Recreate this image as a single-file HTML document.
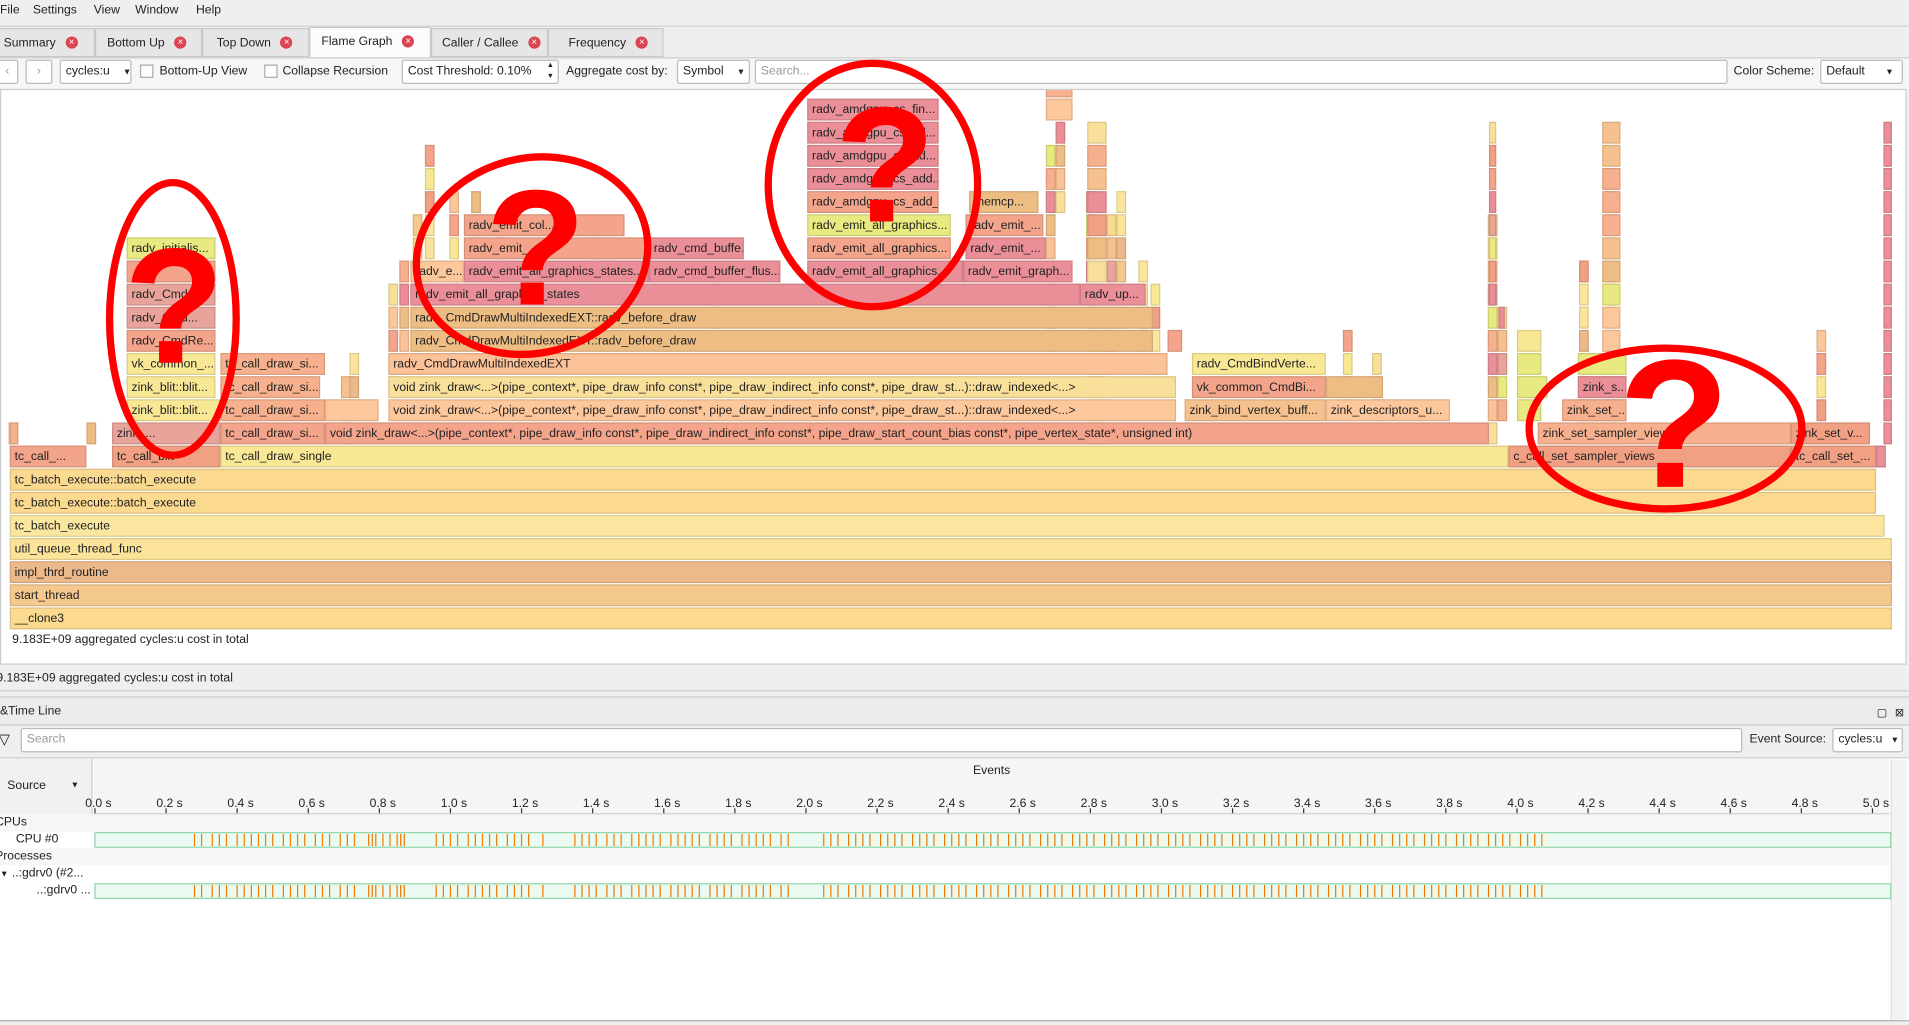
<!DOCTYPE html>
<html><head><meta charset="utf-8"><style>
html,body{margin:0;padding:0;width:1909px;height:1025px;overflow:hidden;background:#efefef}
#root{position:absolute;left:0;top:0;width:1568px;height:842px;transform:scale(1.21747,1.21734);transform-origin:0 0;font-family:"Liberation Sans","DejaVu Sans",sans-serif;font-size:10px;color:#222;background:#efefef}
.a{position:absolute;box-sizing:border-box;white-space:nowrap;overflow:hidden}
.tab{top:23px;height:24px;border:1px solid #c8c8c8;background:#e6e6e6;line-height:24px;padding-left:4px}
.x{display:inline-block;width:10px;height:10px;border-radius:5px;background:#da4453;color:#fff;font-size:8px;line-height:10px;text-align:center;margin-left:8px;vertical-align:middle}
.inp{background:#fff;border:1px solid #bbb;border-radius:2px;height:20px;line-height:18px;padding-left:4px}
.f{position:absolute;height:18px;box-sizing:border-box;border:1px solid rgba(0,0,0,0.12);font-size:10px;line-height:17px;padding-left:3px;white-space:nowrap;overflow:hidden;color:#222}
</style></head><body>
<div id="root">
<div class="a" style="top:0;left:0;width:1568px;height:18px;line-height:17px">
<span style="position:absolute;left:0">File</span>
<span style="position:absolute;left:27px">Settings</span>
<span style="position:absolute;left:77px">View</span>
<span style="position:absolute;left:111px">Window</span>
<span style="position:absolute;left:161px">Help</span></div>
<div class="a" style="top:21px;left:0;width:1568px;height:1px;background:#d0d0d0"></div>
<div class="a tab" style="left:-2px;width:80px">Summary<span class="x">×</span></div>
<div class="a tab" style="left:78px;width:88px;padding-left:9px">Bottom Up<span class="x">×</span></div>
<div class="a tab" style="left:166px;width:88px;padding-left:11px">Top Down<span class="x">×</span></div>
<div class="a tab" style="left:254px;width:100px;top:22px;height:27px;background:#fcfcfc;border-bottom:none;padding-left:9px">Flame Graph<span class="x">×</span></div>
<div class="a tab" style="left:354px;width:96px;padding-left:8px">Caller / Callee<span class="x">×</span></div>
<div class="a tab" style="left:450px;width:95px;padding-left:16px">Frequency<span class="x">×</span></div>
<div class="a" style="top:47px;left:0;width:1568px;height:26px;background:#f6f6f6;border-top:1px solid #ccc"></div>
<div class="a inp" style="top:49px;left:-3px;width:18px;color:#999;text-align:center;padding:0">‹</div>
<div class="a inp" style="top:49px;left:21px;width:22px;color:#999;text-align:center;padding:0">›</div>
<div class="a inp" style="top:49px;left:49px;width:59px">cycles:u <span style="font-size:7px;margin-left:8px">▼</span></div>
<div class="a" style="top:53px;left:115px;width:11px;height:11px;border:1px solid #aaa;background:#fff"></div>
<div class="a" style="top:51px;left:131px;line-height:16px">Bottom-Up View</div>
<div class="a" style="top:53px;left:217px;width:11px;height:11px;border:1px solid #aaa;background:#fff"></div>
<div class="a" style="top:51px;left:232px;line-height:16px">Collapse Recursion</div>
<div class="a inp" style="top:49px;left:330px;width:129px">Cost Threshold: 0.10%<span style="position:absolute;right:3px;top:0;font-size:6px;line-height:9px">▲<br>▼</span></div>
<div class="a" style="top:51px;left:465px;line-height:16px">Aggregate cost by:</div>
<div class="a inp" style="top:49px;left:556px;width:60px">Symbol <span style="font-size:7px;margin-left:8px">▼</span></div>
<div class="a inp" style="top:49px;left:620px;width:799px;color:#999">Search...</div>
<div class="a" style="top:51px;left:1424px;line-height:16px">Color Scheme:</div>
<div class="a inp" style="top:49px;left:1495px;width:68px">Default <span style="font-size:7px;margin-left:14px">▼</span></div>
<div class="a" id="flame" style="top:73px;left:0;width:1566px;height:473px;background:#fff;border:1px solid #ccc"></div>
<div class="a" style="top:519px;left:10px;line-height:14px">9.183E+09 aggregated cycles:u cost in total</div>
<div class="a" style="top:551px;left:-3px;line-height:14px">9.183E+09 aggregated cycles:u cost in total</div>
<div class="a" style="top:567px;left:0;width:1568px;height:1px;background:#ccc"></div>
<div class="a" style="top:572px;left:0;width:1568px;height:24px;line-height:24px;background:#ececec;border-top:1px solid #ccc;border-bottom:1px solid #ccc;padding-left:0">&amp;Time Line<span style="position:absolute;right:18px;font-size:9px">▢</span><span style="position:absolute;right:4px;font-size:9px">⊠</span></div>
<div class="a" style="top:600px;left:-1px;font-size:12px">▽</div>
<div class="a inp" style="top:598px;left:17px;width:1414px;color:#999">Search</div>
<div class="a" style="top:600px;left:1437px;line-height:16px">Event Source:</div>
<div class="a inp" style="top:598px;left:1505px;width:58px">cycles:u <span style="font-size:7px;margin-left:4px">▼</span></div>
<div class="a" style="top:622px;left:0;width:1568px;height:217px;background:#fff;border-top:1px solid #ccc;border-bottom:1px solid #aaa"></div>
<div class="a" style="top:623px;left:0;width:76px;height:46px;background:#f1f1f1;border-right:1px solid #ccc;line-height:46px;padding-left:6px">Source<span style="position:absolute;left:58px;font-size:7px">▼</span></div>
<div class="a" style="top:623px;left:77px;width:1475px;height:46px;background:#f5f5f5;border-bottom:1px solid #ccc"><div style="position:absolute;top:4px;width:100%;text-align:center;line-height:14px">Events</div></div>
<div class="a" style="top:669px;left:0;width:1552px;height:14px;background:#f7f7f7"></div>
<div class="a" style="top:697px;left:0;width:1552px;height:14px;background:#f7f7f7"></div>
<div class="a" style="top:669px;left:-4px;line-height:14px">CPUs</div>
<div class="a" style="top:683px;left:13px;line-height:14px">CPU #0</div>
<div class="a" style="top:697px;left:-4px;line-height:14px">Processes</div>
<div class="a" style="top:711px;left:0;line-height:14px"><span style="font-size:7px">▼</span> ..:gdrv0 (#2...</div>
<div class="a" style="top:725px;left:30px;line-height:14px">..:gdrv0 ...</div>
<div class="a" style="top:624px;left:1553px;width:13px;height:214px;background:#f3f3f3;border-left:1px solid #ddd"></div>
<svg class="a" id="tl" style="top:623px;left:0" width="1568" height="215"></svg>
<svg class="a" style="top:0;left:0;overflow:visible" width="1568" height="842">
<g fill="none" stroke="#ff0000" stroke-width="6">
<ellipse cx="142" cy="262" rx="52" ry="112"/>
<ellipse cx="437" cy="210" rx="96" ry="80" transform="rotate(-15 437 210)"/>
<ellipse cx="717" cy="152" rx="86" ry="100"/>
<ellipse cx="1368" cy="352" rx="112" ry="66"/>
</g>
<g fill="#ff0000" font-family="Liberation Sans, sans-serif" font-weight="bold" text-anchor="middle">
<text x="143" y="298" font-size="135">?</text>
<text x="440" y="250" font-size="135">?</text>
<text x="727" y="182" font-size="135">?</text>
<text x="1375" y="400" font-size="150">?</text>
</g></svg>
</div>
<script>
const colors=['#fbd98f','#f5c98d','#ebb98a','#fbe499','#fbe6a0','#f1a083','#f8e895','#f3a48a','#fcc79a','#f9e09a','#fbc197','#eebd84','#ea8f98','#f7b08e','#e8e980','#e8a39a','#f5c28f'];
const frameRows=[0,1,2,3,4,5,6,7,7,7,7,7,7,8,8,8,8,8,8,9,9,9,9,9,9,9,10,10,10,10,10,10,10,11,11,11,11,12,12,12,13,13,14,14,14,15,15,15,15,15,15,16,16,16,16,16,17,17,17,18,18,19,20,21,22,23,8,9,10,11,12,13,14,15,16,17,18,19,20,21,7,8,9,10,11,12,13,14,15,16,17,18,19,20,21,22,9,10,11,12,13,14,15,16,17,18,19,20,21,8,9,10,11,12,13,14,15,16,17,18,19,20,21];
const frameX0=[7,7,7,7,7,7,7,7,91,180,1238,1470,1540,91,180,266,1262,1470,7,103,180,266,318,972,1088,1282,103,180,318,978,1088,1295,1245,103,180,318,978,103,336,958,103,336,103,336,886,103,336,380,532,662,790,103,380,532,662,792,380,662,792,662,795,662,662,662,662,858,1546,1546,1546,1546,1546,1546,1546,1546,1546,1546,1546,1546,1546,1546,1295,1295,1295,1295,1295,1315,1315,1315,1315,1315,1315,1315,1315,1315,1315,858,1245,1245,1245,1245,1230,1222,1222,1222,1222,1222,1222,1222,1222,892,892,892,892,892,892,892,892,892,892,892,892,892,892];
const frameX1=[1553,1553,1553,1553,1547,1540,1540,70,180,1238,1470,1540,1548,180,266,1222,1470,1535,14,180,266,310,965,1088,1190,1335,176,262,965,1088,1135,1335,1270,176,266,958,1088,176,946,970,176,946,176,886,940,176,380,532,640,790,880,176,532,610,780,858,512,780,856,770,852,770,770,770,770,880,1553,1553,1553,1553,1553,1553,1553,1553,1553,1553,1553,1553,1553,1553,1335,1335,1335,1335,1335,1330,1330,1330,1330,1330,1330,1330,1330,1330,1330,880,1265,1265,1265,1265,1235,1228,1228,1228,1228,1228,1228,1228,1228,908,908,908,908,908,908,908,908,908,908,908,908,908,908];
const frameLabels=['__clone3','start_thread','impl_thrd_routine','util_queue_thread_func','tc_batch_execute','tc_batch_execute::batch_execute','tc_batch_execute::batch_execute','tc_call_...','tc_call_blit','tc_call_draw_single','c_call_set_sampler_views','tc_call_set_...','','zink_...','tc_call_draw_si...','void zink_draw<...>(pipe_context*, pipe_draw_info const*, pipe_draw_indirect_info const*, pipe_draw_start_count_bias const*, pipe_vertex_state*, unsigned int)','zink_set_sampler_views','zink_set_v...','','zink_blit::blit...','tc_call_draw_si...','','void zink_draw<...>(pipe_context*, pipe_draw_info const*, pipe_draw_indirect_info const*, pipe_draw_st...)::draw_indexed<...>','zink_bind_vertex_buff...','zink_descriptors_u...','zink_set_...','zink_blit::blit...','tc_call_draw_si...','void zink_draw<...>(pipe_context*, pipe_draw_info const*, pipe_draw_indirect_info const*, pipe_draw_st...)::draw_indexed<...>','vk_common_CmdBi...','','zink_s...','','vk_common_...','tc_call_draw_si...','radv_CmdDrawMultiIndexedEXT','radv_CmdBindVerte...','radv_CmdRe...','radv_CmdDrawMultiIndexedEXT::radv_before_draw','','radv_Cmd...','radv_CmdDrawMultiIndexedEXT::radv_before_draw','radv_Cmd...','radv_emit_all_graphics_states','radv_up...','','radv_e...','radv_emit_all_graphics_states...','radv_cmd_buffer_flus...','radv_emit_all_graphics...','radv_emit_graph...','radv_initialis...','radv_emit_...','radv_cmd_buffe...','radv_emit_all_graphics...','radv_emit_...','radv_emit_col...','radv_emit_all_graphics...','radv_emit_...','radv_amdgpu_cs_add_...','memcp...','radv_amdgpu_cs_add...','radv_amdgpu_cs_ad...','radv_amdgpu_cs_ad...','radv_amdgpu_cs_fin...','','','','','','','','','','','','','','','','','','','','','','','','','','','','','','','','','','','','','','','','','','','','','','','','','','','','','','','','','','','','','','',''];
const frameColors=[0,1,2,3,4,0,0,7,5,6,5,5,12,15,7,7,13,5,13,6,13,8,8,16,8,13,6,13,9,7,11,12,14,6,13,10,6,7,11,7,15,11,15,12,12,7,8,12,12,12,12,14,7,12,7,12,7,14,7,7,11,12,12,12,12,13,12,12,12,12,12,12,12,12,12,12,12,12,12,12,14,14,12,15,14,8,8,14,11,16,13,13,13,16,16,8,14,14,14,6,12,12,5,14,15,12,7,5,9,11,9,5,14,14,8,14,9,11,5,12,16,13,9,16];
const spikeX=[10,74,283,290,322,331,342,352,372,390,410,488,498,586,870,862,895,912,920,938,948,1106,1130,1225,1233,1300,1322,1495];
const spikeTop=[8,8,10,11,14,15,17,20,18,18,17,16,16,14,21,20,18,17,18,15,14,12,11,17,13,15,18,12];
const spikeBottom=[8,8,8,9,10,11,12,14,15,15,15,15,15,13,18,12,13,12,13,12,11,9,9,8,9,9,9,9];
const fl=document.getElementById('flame');
function rowTop(r){return 498-19*r-73;}
for(let i=0;i<spikeX.length;i++){
  for(let r=spikeBottom[i];r<=spikeTop[i];r++){
    const d=document.createElement('div');d.className='f';
    d.style.left=(spikeX[i]-4)+'px';d.style.top=rowTop(r)+'px';d.style.width='8px';
    d.style.background=colors[(i*3+r)%colors.length];
    
    
    fl.appendChild(d);
  }
}
const order=[];
for(let i=66;i<frameRows.length;i++)order.push(i);
for(let i=0;i<66;i++)order.push(i);
order.forEach(function(i){
  const d=document.createElement('div');d.className='f';
  d.style.left=(frameX0[i])+'px';d.style.top=rowTop(frameRows[i])+'px';
  d.style.width=Math.max(2,frameX1[i]-frameX0[i])+'px';
  d.style.background=colors[frameColors[i]%colors.length];
  d.textContent=frameLabels[i]||'';
  
  
  fl.appendChild(d);
});
const tickLabels=['0.0 s','0.2 s','0.4 s','0.6 s','0.8 s','1.0 s','1.2 s','1.4 s','1.6 s','1.8 s','2.0 s','2.2 s','2.4 s','2.6 s','2.8 s','3.0 s','3.2 s','3.4 s','3.6 s','3.8 s','4.0 s','4.2 s','4.4 s','4.6 s','4.8 s','5.0 s'];
const tickValues=[0,0.2,0.4,0.6,0.8,1.0,1.2,1.4,1.6,1.8,2.0,2.2,2.4,2.6,2.8,3.0,3.2,3.4,3.6,3.8,4.0,4.2,4.4,4.6,4.8,5.0];
const eventTimes=[0.28,0.30,0.33,0.35,0.37,0.40,0.42,0.44,0.46,0.48,0.50,0.53,0.55,0.57,0.59,0.62,0.64,0.66,0.69,0.71,0.73,0.77,0.78,0.79,0.81,0.83,0.85,0.86,0.87,0.96,0.98,1.00,1.02,1.05,1.07,1.09,1.11,1.13,1.16,1.18,1.20,1.22,1.26,1.35,1.37,1.39,1.41,1.44,1.46,1.48,1.51,1.53,1.55,1.57,1.59,1.62,1.64,1.66,1.68,1.70,1.73,1.75,1.77,1.79,1.82,1.84,1.86,1.88,1.90,1.93,1.95,2.05,2.07,2.09,2.12,2.14,2.16,2.18,2.21,2.23,2.25,2.27,2.30,2.32,2.34,2.36,2.39,2.41,2.43,2.45,2.48,2.50,2.52,2.54,2.57,2.59,2.61,2.63,2.66,2.68,2.70,2.72,2.75,2.77,2.79,2.81,2.84,2.86,2.88,2.90,2.93,2.95,2.97,2.99,3.02,3.04,3.06,3.08,3.11,3.13,3.15,3.17,3.20,3.22,3.24,3.26,3.29,3.31,3.33,3.35,3.38,3.40,3.42,3.44,3.47,3.49,3.51,3.53,3.56,3.58,3.60,3.62,3.65,3.67,3.69,3.71,3.74,3.76,3.78,3.80,3.83,3.85,3.87,3.89,3.92,3.94,3.96,3.98,4.01,4.03,4.05,4.07];
const tl=document.getElementById('tl');const NS='http://www.w3.org/2000/svg';
function xs(t){return 78+t*292;}
function mk(tag,attrs){const e=document.createElementNS(NS,tag);for(const k in attrs)e.setAttribute(k,attrs[k]);tl.appendChild(e);return e;}
for(let i=0;i<tickValues.length;i++){
  const x=xs(tickValues[i]);
  const l=mk('line',{x1:x,x2:x,y1:41,y2:45,stroke:'#333'});
  
  
  const t=mk('text',{x:x-8,y:40,'font-size':'10','font-family':'Liberation Sans, sans-serif',fill:'#222'});
  t.textContent=tickLabels[i];
  
  
}
[61,103].forEach(function(y){
  const r=mk('rect',{x:78,y:y,width:1475,height:12,fill:'#ebfaf1',stroke:'#8fd6a8'});
  
  
  for(let i=0;i<eventTimes.length;i++){
    const x=xs(eventTimes[i]);
    const l=mk('line',{x1:x,x2:x,y1:y+1,y2:y+11,stroke:'#f07800','stroke-width':1});
    
    
  }
});
</script>
</body></html>
